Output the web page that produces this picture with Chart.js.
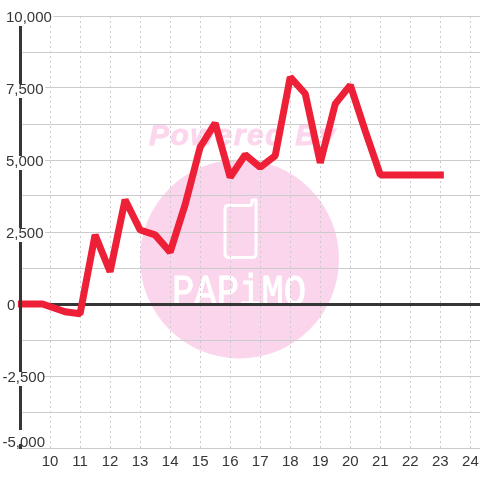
<!DOCTYPE html>
<html>
<head>
<meta charset="utf-8">
<style>html,body{margin:0;padding:0;background:#fff}canvas{display:block}</style>
<script src="https://cdn.jsdelivr.net/npm/chart.js@4"></script>
</head>
<body>
<canvas id="c" width="480" height="480"></canvas>
<script>
const hours = [9, 9.75, 10.5, 11, 11.5, 12, 12.5, 13, 13.5, 14, 14.5, 15, 15.5, 16, 16.5, 17, 17.5, 18, 18.5, 19, 19.5, 20, 20.5, 21, 22, 23];
const values = [0, 0, -270, -340, 2400, 1120, 3620, 2570, 2400, 1800, 3450, 5450, 6280, 4400, 5180, 4750, 5150, 7880, 7300, 4900, 6950, 7600, 6000, 4480, 4480, 4480];
const xTicks = [10, 11, 12, 13, 14, 15, 16, 17, 18, 19, 20, 21, 22, 23, 24];
const yTicks = [-5000, -3750, -2500, -1250, 0, 1250, 2500, 3750, 5000, 6250, 7500, 8750, 10000];
const watermarkTitle = 'Powered By';
const watermarkBrand = 'PAPiMO';

const fontFamily = '"Liberation Sans", Arial, sans-serif';
const inkColor = '#363636';
const gridColor = '#cccccc';
const lineColor = '#ee2037';

const watermark = {
  id: 'watermark',
  beforeDraw(chart) {
    const ctx = chart.ctx;
    ctx.save();
    ctx.fillStyle = '#ffffff';
    ctx.fillRect(0, 0, 480, 480);
    ctx.fillStyle = '#fbd5ec';
    ctx.beginPath();
    ctx.arc(239.5, 259, 99.5, 0, Math.PI * 2);
    ctx.fill();
    ctx.fillStyle = '#fcd6ed';
    ctx.strokeStyle = '#fcd6ed';
    ctx.lineWidth = 0.8;
    ctx.font = 'italic bold 30px ' + fontFamily;
    ctx.textBaseline = 'alphabetic';
    ctx.textAlign = 'left';
    ctx.letterSpacing = '1.6px';
    ctx.fillText(watermarkTitle, 149, 145);
    ctx.strokeText(watermarkTitle, 149, 145);
    ctx.letterSpacing = '0px';
    ctx.strokeStyle = '#ffffff';
    ctx.lineWidth = 3;
    ctx.lineJoin = 'round';
    ctx.lineCap = 'round';
    ctx.beginPath();
    ctx.moveTo(228, 205.5);
    ctx.lineTo(250, 205.5);
    ctx.lineTo(252, 204);
    ctx.lineTo(252, 200);
    ctx.lineTo(256, 200);
    ctx.lineTo(256, 254);
    ctx.quadraticCurveTo(256, 257.5, 252, 257.5);
    ctx.lineTo(229, 257.5);
    ctx.quadraticCurveTo(225, 257.5, 225, 254);
    ctx.lineTo(225, 209);
    ctx.quadraticCurveTo(225, 205.5, 228, 205.5);
    ctx.stroke();
    ctx.fillStyle = '#ffffff';
    ctx.strokeStyle = '#ffffff';
    ctx.lineWidth = 1;
    ctx.font = '46px "Liberation Mono", monospace';
    ctx.save();
    ctx.translate(172, 305);
    ctx.scale(0.81, 0.98);
    ctx.fillText(watermarkBrand, 0, 0);
    ctx.strokeText(watermarkBrand, 0, 0);
    ctx.restore();
    ctx.restore();
    // nudge the y tick labels the way the reference places them
    chart.scales.y.getLabelItems().forEach(item => {
      if (item.nudged) return;
      item.nudged = true;
      let dx = 0, dy = 2;
      const text = String(item.label);
      if (text.startsWith('-')) dx = -3.5;
      if (text === '0') dx = 1;
      if (text === '-5,000') dy = -5;
      item.options.translation[0] += dx;
      item.options.translation[1] += dy;
      if (item.options.backdrop) {
        item.options.backdrop.left += dx;
        item.options.backdrop.top += dy;
      }
    });
  }
};

new Chart(document.getElementById('c'), {
  type: 'line',
  data: {
    datasets: [{
      data: hours.map((h, i) => ({ x: h, y: values[i] })),
      borderColor: lineColor,
      borderWidth: 7,
      borderCapStyle: 'square',
      borderJoinStyle: 'bevel',
      pointRadius: 0,
      tension: 0,
      fill: false,
      clip: false
    }]
  },
  options: {
    responsive: false,
    animation: false,
    layout: { padding: { left: 20, right: 0, top: 16, bottom: 0 } },
    plugins: { legend: { display: false }, tooltip: { enabled: false } },
    scales: {
      x: {
        type: 'linear',
        min: 9,
        max: 24.32,
        afterBuildTicks(s) { s.ticks = xTicks.map(v => ({ value: v })); },
        afterFit(s) { s.height = 32; s.paddingLeft = 0; s.paddingRight = 0; },
        grid: { color: gridColor, lineWidth: 1, drawTicks: false },
        border: { display: false, dash: [2, 3] },
        ticks: {
          autoSkip: false, maxRotation: 0, minRotation: 0, padding: 5,
          color: inkColor, font: { family: fontFamily, size: 15 },
          callback: v => String(v)
        }
      },
      y: {
        min: -5000,
        max: 10000,
        afterBuildTicks(s) { s.ticks = yTicks.map(v => ({ value: v })); },
        afterFit(s) { s.width = 0; s.paddingTop = 0; s.paddingBottom = 0; },
        grid: {
          drawTicks: false,
          color: c => c.tick && c.tick.value === 0 ? inkColor : gridColor,
          lineWidth: c => c.tick && c.tick.value === 0 ? 3 : 1
        },
        border: { display: true, color: inkColor, width: 3, z: 1 },
        ticks: {
          mirror: true,
          padding: -14,
          z: 2,
          autoSkip: false,
          color: inkColor,
          font: { family: fontFamily, size: 15 },
          showLabelBackdrop: c => c.tick.value % 2500 === 0,
          backdropColor: '#ffffff',
          backdropPadding: { left: 2, right: 1.5, top: -1, bottom: -3 },
          callback: v => v % 2500 === 0 ? v.toLocaleString('en-US') : ''
        }
      }
    }
  },
  plugins: [watermark]
});
</script>
</body>
</html>
